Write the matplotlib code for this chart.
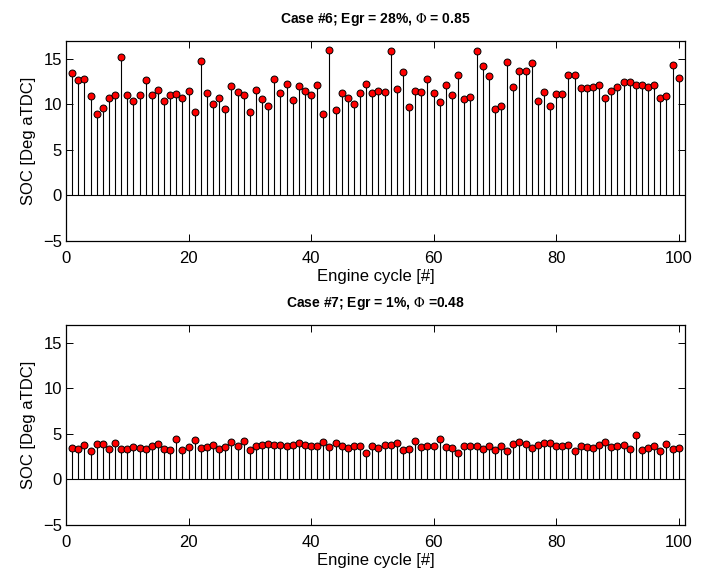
import numpy as np
import matplotlib
matplotlib.use("Agg")
import matplotlib.pyplot as plt

plt.rcParams['font.family'] = ['Liberation Sans', 'DejaVu Sans']
plt.rcParams['mathtext.fontset'] = 'stix'

cycles = np.arange(1, 101)

# Case #6 start of combustion [deg aTDC]
soc_case6 = [
  13.5, 12.7, 12.8, 10.9, 8.9, 9.6, 10.7, 11.0, 15.2, 11.1,
  10.4, 11.1, 12.7, 11.1, 11.6, 10.4, 11.0, 11.2, 10.7, 11.5,
  9.2, 14.8, 11.3, 10.0, 10.7, 9.5, 12.0, 11.4, 11.1, 9.2,
  11.6, 10.6, 9.8, 12.8, 11.3, 12.3, 10.5, 12.0, 11.5, 11.0,
  12.2, 8.9, 16.0, 9.4, 11.3, 10.7, 10.1, 11.3, 12.3, 11.3,
  11.5, 11.4, 15.9, 11.7, 13.6, 9.7, 11.5, 11.4, 12.8, 11.3,
  10.3, 12.2, 11.1, 13.3, 10.6, 10.8, 15.9, 14.2, 13.1, 9.5,
  9.8, 14.7, 11.9, 13.7, 13.7, 14.6, 10.4, 11.4, 9.8, 11.2,
  11.2, 13.2, 13.2, 11.8, 11.8, 11.9, 12.1, 10.7, 11.5, 11.9,
  12.5, 12.5, 12.1, 12.1, 11.9, 12.2, 10.7, 10.9, 14.3, 12.9,
]

# Case #7 start of combustion [deg aTDC]
soc_case7 = [
  3.43, 3.32, 3.80, 3.14, 3.90, 3.90, 3.32, 4.00, 3.32, 3.32,
  3.54, 3.43, 3.32, 3.65, 3.90, 3.32, 3.25, 4.45, 3.25, 3.54,
  4.34, 3.43, 3.54, 3.80, 3.32, 3.54, 4.12, 3.65, 4.23, 3.25,
  3.65, 3.80, 3.90, 3.80, 3.80, 3.69, 3.80, 4.00, 3.80, 3.72,
  3.65, 4.16, 3.54, 4.00, 3.69, 3.43, 3.65, 3.72, 2.92, 3.72,
  3.43, 3.80, 3.80, 4.05, 3.21, 3.32, 4.23, 3.54, 3.65, 3.65,
  4.45, 3.54, 3.43, 2.92, 3.72, 3.65, 3.65, 3.32, 3.72, 3.21,
  3.65, 3.14, 3.90, 4.12, 3.90, 3.43, 3.80, 4.00, 4.00, 3.72,
  3.65, 3.80, 3.14, 3.65, 3.54, 3.43, 3.80, 4.12, 3.54, 3.72,
  3.80, 3.32, 4.93, 3.21, 3.43, 3.72, 3.14, 3.90, 3.32, 3.43,
]

titles = ["Case #6; Egr = 28%, $\\Phi$ = 0.85",
          "Case #7; Egr = 1%, $\\Phi$ =0.48"]

fig = plt.figure(figsize=(7.06, 5.72), dpi=100)
ax1 = fig.add_axes([0.0935, 0.5795, 0.8765, 0.3488])
ax2 = fig.add_axes([0.0935, 0.0822, 0.8765, 0.3501])

for ax, soc, title in zip([ax1, ax2], [soc_case6, soc_case7], titles):
  ax.vlines(cycles, 0, soc, color="black", linewidth=0.8, zorder=2)
  ax.axhline(0, color="black", linewidth=0.8, zorder=2)
  ax.plot(cycles, soc, linestyle="none", marker="o", markersize=5,
          markerfacecolor="red", markeredgecolor="black",
          markeredgewidth=0.7, zorder=3)
  ax.set_xlim(0, 101)
  ax.set_ylim(-5, 17)
  ax.set_xticks([0, 20, 40, 60, 80, 100])
  ax.set_yticks([-5, 0, 5, 10, 15])
  ax.tick_params(direction="in", top=True, right=True, labelsize=12,
                 length=5, width=0.7)
  ax.tick_params(axis="x", pad=7.5)
  ax.tick_params(axis="y", pad=3)
  for spine in ax.spines.values():
    spine.set_linewidth(0.9)
  ax.set_xlabel("Engine cycle [#]", fontsize=12, labelpad=2)
  ax.set_ylabel("SOC [Deg aTDC]", fontsize=12, labelpad=5)
  ax.set_title(title, fontsize=10, fontweight="bold", pad=13)

plt.savefig("out.png", dpi=100)
